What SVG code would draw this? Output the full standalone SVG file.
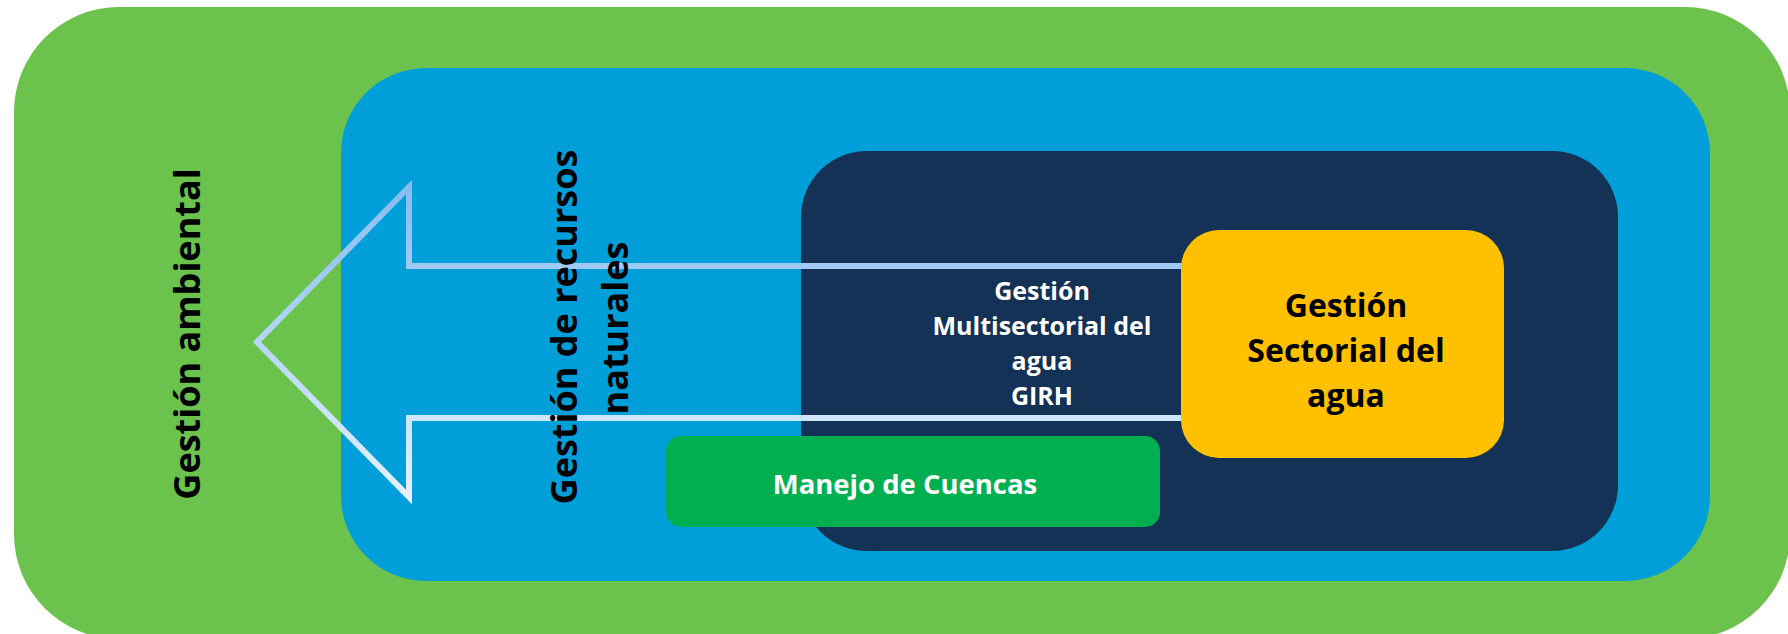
<svg xmlns="http://www.w3.org/2000/svg" width="1788" height="634" viewBox="0 0 1788 634">
  <defs>
    <linearGradient id="arrowGrad" gradientUnits="userSpaceOnUse" x1="0" y1="183" x2="0" y2="500">
      <stop offset="0" stop-color="#86BBF0"/>
      <stop offset="1" stop-color="#E6F2FC"/>
    </linearGradient>
    <style>
      .lbl { font-family: "Open Sans", "Liberation Sans", sans-serif; font-weight: bold; }
      .vert { font-size: 36px; fill: #000000; }
      .white { font-size: 25px; fill: #FFFFFF; text-anchor: middle; }
      .yel { font-size: 32px; fill: #000000; text-anchor: middle; }
    </style>
  </defs>
  <rect x="0" y="0" width="1788" height="634" fill="#FFFFFF"/>

  <g id="gestion-ambiental">
    <rect x="14" y="7" width="1776" height="632" rx="105" ry="105" fill="#6BC24C"/>
  </g>

  <g id="gestion-recursos-naturales">
    <rect x="341" y="68" width="1369" height="513" rx="85" ry="85" fill="#009FD9"/>
  </g>

  <g id="gestion-multisectorial">
    <rect x="801" y="151" width="817" height="400" rx="66" ry="66" fill="#143255"/>
  </g>

  <g id="manejo-cuencas">
    <rect x="666" y="436" width="494" height="91" rx="15" ry="15" fill="#00B050"/>
    <text class="lbl white" x="905" y="494" style="font-size:27.5px">Manejo de Cuencas</text>
  </g>

  <g id="connectors">
    <polygon points="257,342 409,187 409,266 1300,266 1300,418 409,418 409,497" fill="none" stroke="url(#arrowGrad)" stroke-width="6" stroke-miterlimit="10"/>
  </g>

  <g id="gestion-sectorial">
    <rect x="1181" y="230" width="323" height="228" rx="38" ry="38" fill="#FFC000"/>
    <text class="lbl yel" x="1346" y="317">Gestión</text>
    <text class="lbl yel" x="1346" y="362">Sectorial del</text>
    <text class="lbl yel" x="1346" y="407">agua</text>
  </g>

  <g id="labels">
    <text class="lbl white" x="1042" y="300">Gestión</text>
    <text class="lbl white" x="1042" y="335">Multisectorial del</text>
    <text class="lbl white" x="1042" y="370">agua</text>
    <text class="lbl white" x="1042" y="405">GIRH</text>
    <text class="lbl vert" text-anchor="middle" transform="translate(200,334) rotate(-90)">Gestión ambiental</text>
    <text class="lbl vert" text-anchor="middle" transform="translate(577,327) rotate(-90)">Gestión de recursos</text>
    <text class="lbl vert" text-anchor="middle" transform="translate(628,328) rotate(-90)">naturales</text>
  </g>
</svg>
